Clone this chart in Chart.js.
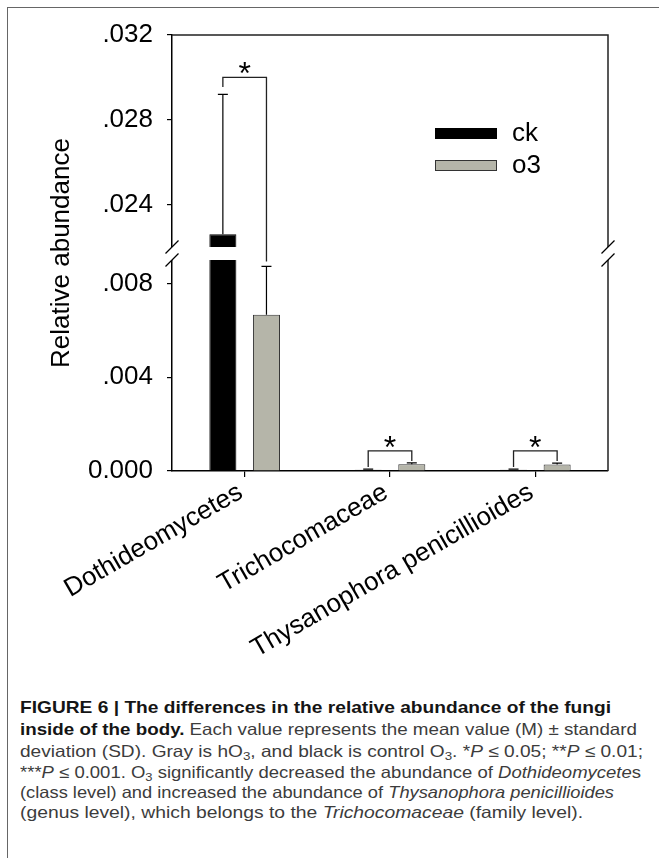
<!DOCTYPE html>
<html><head><meta charset="utf-8">
<script src="https://cdn.jsdelivr.net/npm/chart.js@4.4.1/dist/chart.umd.min.js"></script>
<style>
html,body{margin:0;padding:0;background:#fff;}
body{width:659px;height:858px;position:relative;overflow:hidden;}
#frame{position:absolute;left:7px;top:7px;width:670px;height:870px;border-left:1.5px solid #666;border-top:1.5px solid #666;}
#c{position:absolute;left:0;top:0;}
.cap{position:absolute;left:20px;white-space:nowrap;font-family:"Liberation Sans",Arial,sans-serif;font-size:16.5px;color:#3c3c3c;transform-origin:0 50%;line-height:21px;}
.cap b{color:#151515;}
sub{font-size:70%;vertical-align:-0.25em;line-height:0;}
</style></head>
<body>
<div id="frame"></div>
<canvas id="c" width="659" height="690"></canvas>
<div class="cap" data-w="591" style="top:697px"><b>FIGURE 6 | The differences in the relative abundance of the fungi</b></div>
<div class="cap" data-w="617" style="top:719px"><b>inside of the body.</b> Each value represents the mean value (M) ± standard</div>
<div class="cap" data-w="623" style="top:741px">deviation (SD). Gray is hO<sub>3</sub>, and black is control O<sub>3</sub>. *<i>P</i> ≤ 0.05; **<i>P</i> ≤ 0.01;</div>
<div class="cap" data-w="621" style="top:762px">***<i>P</i> ≤ 0.001. O<sub>3</sub> significantly decreased the abundance of <i>Dothideomycete</i>s</div>
<div class="cap" data-w="594" style="top:782px">(class level) and increased the abundance of <i>Thysanophora penicillioides</i></div>
<div class="cap" data-w="563" style="top:802px">(genus level), which belongs to the <i>Trichocomaceae</i> (family level).</div>
<script>
// ---- data ----
const categories = ['Dothideomycetes', 'Trichocomaceae', 'Thysanophora penicillioides'];
const seriesNames = ['ck', 'o3'];
const ckMean = [0.0226, 0.00005, 0.00005];
const ckSD   = [0.0066, 0.00003, 0.00003];
const o3Mean = [0.00667, 0.00029, 0.00028];
const o3SD   = [0.00206, 0.00006, 0.00006];
const yTicks = [0, 0.004, 0.008, 0.024, 0.028, 0.032];
const yTickLabels = ['0.000', '.004', '.008', '.024', '.028', '.032'];
const axisBreak = [0.009, 0.022];          // top of lower segment, bottom of upper segment
const sigTop      = [0.0300, 0.00086, 0.00086];
const sigLeftEnd  = [0.02955, 0.00017, 0.00017];
const sigRightEnd = [0.00894, 0.00043, 0.00043];
const sigLabels   = ['*', '*', '*'];

const FONT = '"Liberation Sans", Arial, sans-serif';

// caption fitting
document.querySelectorAll('.cap').forEach(el => {
  const w = el.getBoundingClientRect().width;
  el.style.transform = 'scaleX(' + (+el.dataset.w / w) + ')';
});

// ---- broken linear scale ----
const LOWER_FRAC = 211 / 436, GAP_FRAC = 13 / 436;
class BrokenLinearScale extends Chart.LinearScale {
  _dec(v) {
    const lo = axisBreak[0], hi = axisBreak[1];
    const min = this.min, max = this.max;
    const fu = 1 - LOWER_FRAC - GAP_FRAC;
    if (v <= lo) return (v - min) / (lo - min) * LOWER_FRAC;
    if (v >= hi) return LOWER_FRAC + GAP_FRAC + (v - hi) / (max - hi) * fu;
    return LOWER_FRAC + (v - lo) / (hi - lo) * GAP_FRAC;
  }
  getPixelForValue(v) {
    if (v === null || v === undefined || isNaN(v)) return NaN;
    return this.getPixelForDecimal(this._dec(v));
  }
  getValueForPixel(p) {
    const d = this.getDecimalForPixel(p);
    const lo = axisBreak[0], hi = axisBreak[1];
    const fu = 1 - LOWER_FRAC - GAP_FRAC;
    if (d <= LOWER_FRAC) return this.min + d / LOWER_FRAC * (lo - this.min);
    if (d >= LOWER_FRAC + GAP_FRAC) return hi + (d - LOWER_FRAC - GAP_FRAC) / fu * (this.max - hi);
    return lo + (d - LOWER_FRAC) / GAP_FRAC * (hi - lo);
  }
}
BrokenLinearScale.id = 'brokenLinear';
BrokenLinearScale.defaults = {};
Chart.register(BrokenLinearScale);

const errs = [ckSD, o3SD];

const annot = {
  id: 'annot',
  afterDatasetsDraw(chart) {
    const ctx = chart.ctx, y = chart.scales.y, a = chart.chartArea;
    const gTop = y.getPixelForValue(axisBreak[1]);
    const gBot = y.getPixelForValue(axisBreak[0]);
    ctx.save();
    ctx.fillStyle = '#fff';
    ctx.fillRect(a.left + 1, gTop, a.right - a.left - 2, gBot - gTop);
    // error bars
    ctx.strokeStyle = '#000';
    ctx.lineWidth = 1.2;
    chart.data.datasets.forEach((ds, i) => {
      const meta = chart.getDatasetMeta(i);
      meta.data.forEach((bar, j) => {
        const top = y.getPixelForValue(ds.data[j] + errs[i][j]);
        ctx.beginPath();
        ctx.moveTo(bar.x, bar.y);
        ctx.lineTo(bar.x, top);
        ctx.moveTo(bar.x - 5, top);
        ctx.lineTo(bar.x + 5, top);
        ctx.stroke();
      });
    });
    // significance brackets
    const m0 = chart.getDatasetMeta(0), m1 = chart.getDatasetMeta(1);
    ctx.strokeStyle = '#222';
    ctx.lineWidth = 1.3;
    ctx.font = '32px ' + FONT;
    ctx.fillStyle = '#000';
    ctx.textAlign = 'center';
    ctx.textBaseline = 'alphabetic';
    categories.forEach((c, j) => {
      const xL = m0.data[j].x, xR = m1.data[j].x;
      const yT = y.getPixelForValue(sigTop[j]);
      ctx.beginPath();
      ctx.moveTo(xL, y.getPixelForValue(sigLeftEnd[j]));
      ctx.lineTo(xL, yT);
      ctx.lineTo(xR, yT);
      ctx.lineTo(xR, y.getPixelForValue(sigRightEnd[j]));
      ctx.stroke();
      const mt = ctx.measureText(sigLabels[j]);
      const off = (mt.actualBoundingBoxAscent - mt.actualBoundingBoxDescent) / 2;
      ctx.fillText(sigLabels[j], (xL + xR) / 2, yT - 9 + off);
    });
    // legend
    ctx.font = '26px ' + FONT;
    ctx.textAlign = 'left';
    ctx.textBaseline = 'middle';
    chart.data.datasets.forEach((ds, i) => {
      const ry = 128 + i * 32;
      ctx.fillStyle = ds.backgroundColor;
      ctx.fillRect(435, ry, 62, 11);
      ctx.strokeStyle = ds.borderColor;
      ctx.lineWidth = 1;
      ctx.strokeRect(435.5, ry + 0.5, 61, 10);
      ctx.fillStyle = '#000';
      ctx.fillText(ds.label, 512, ry + 6);
    });
    ctx.restore();
  },
  afterDraw(chart) {
    const ctx = chart.ctx, y = chart.scales.y, a = chart.chartArea;
    const gTop = y.getPixelForValue(axisBreak[1]);
    const gBot = y.getPixelForValue(axisBreak[0]);
    ctx.save();
    ctx.strokeStyle = '#222';
    ctx.lineWidth = 1.5;
    ctx.beginPath();
    ctx.moveTo(a.left, a.top);
    ctx.lineTo(a.right, a.top);
    ctx.lineTo(a.right, a.bottom);
    ctx.stroke();
    ctx.fillStyle = '#fff';
    [a.left, a.right].forEach(x => {
      ctx.fillRect(x - 3, gTop, 6, gBot - gTop);
    });
    ctx.strokeStyle = '#000';
    ctx.lineWidth = 1.2;
    [a.left, a.right].forEach(x => {
      [gTop, gBot].forEach(yy => {
        ctx.beginPath();
        ctx.moveTo(x - 6.5, yy + 6.5);
        ctx.lineTo(x + 6.5, yy - 6.5);
        ctx.stroke();
      });
    });
    ctx.restore();
  }
};

new Chart(document.getElementById('c'), {
  type: 'bar',
  data: {
    labels: categories,
    datasets: [
      {label: seriesNames[0], data: ckMean, backgroundColor: '#000000', borderColor: '#000000', borderWidth: 1},
      {label: seriesNames[1], data: o3Mean, backgroundColor: '#b5b5a9', borderColor: '#333333', borderWidth: 1}
    ]
  },
  options: {
    responsive: false,
    animation: false,
    devicePixelRatio: 1,
    layout: {padding: {left: 0, top: 35, right: 51, bottom: 19}},
    datasets: {bar: {categoryPercentage: 0.6, barPercentage: 0.62}},
    plugins: {legend: {display: false}, tooltip: {enabled: false}},
    scales: {
      x: {
        grid: {display: true, drawOnChartArea: false, drawTicks: true, tickLength: 6, offset: false, color: '#000', lineWidth: 1.2},
        border: {display: true, color: '#000', width: 1.5},
        ticks: {font: {family: FONT, size: 26}, color: '#000', minRotation: 30, maxRotation: 30, autoSkip: false, padding: 0, labelOffset: -4},
        afterFit: s => { s.height = 200; }
      },
      y: {
        type: 'brokenLinear',
        min: 0, max: 0.032,
        afterBuildTicks: s => { s.ticks = yTicks.map(v => ({value: v})); },
        ticks: {font: {family: FONT, size: 26}, color: '#000', padding: 14,
                callback: v => yTickLabels[yTicks.indexOf(v)]},
        grid: {display: true, drawOnChartArea: false, drawTicks: true, tickLength: 5, color: '#000', lineWidth: 1.2},
        border: {display: true, color: '#000', width: 1.5},
        title: {display: true, text: 'Relative abundance', color: '#000', font: {family: FONT, size: 26}, padding: {top: 46, bottom: 0}},
        afterFit: s => { s.width = 172; }
      }
    }
  },
  plugins: [annot]
});
</script>
</body></html>
